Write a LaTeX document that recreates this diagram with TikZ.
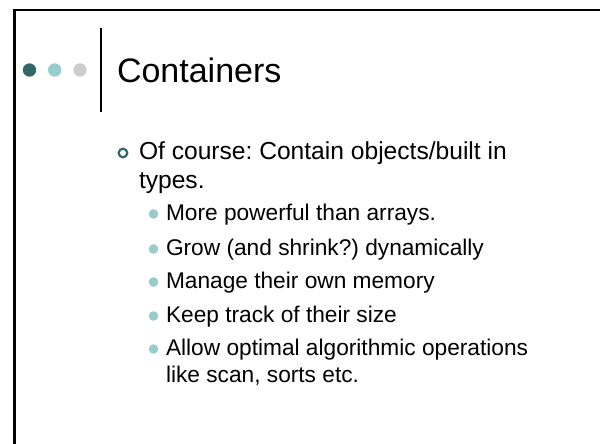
\documentclass[tikz,border=0pt]{standalone}
\usepackage{fontspec}
\setmainfont{Liberation Sans}
\frenchspacing
\definecolor{tealdark}{HTML}{336666}
\definecolor{teallight}{HTML}{99CCCC}
\definecolor{dotgray}{HTML}{CCCCCC}
\begin{document}
\begin{tikzpicture}[x=1pt,y=-1pt,
  txt/.style={anchor=base west,inner sep=0pt,outer sep=0pt},
  maintext/.style={txt,font=\fontsize{24.6}{29}\selectfont},
  subtext/.style={txt,font=\fontsize{22.7}{27}\selectfont},
  ringbullet/.style={draw=tealdark,line width=2.2pt,circle,inner sep=0pt,minimum size=8.6pt},
  dotbullet/.style={fill=teallight,circle,inner sep=0pt,minimum size=9.6pt}]
\useasboundingbox (0,0) rectangle (600,444);
\fill[white] (0,0) rectangle (600,444);
% slide frame: top and left edges
\draw[line width=2.6pt] (14.3,444) -- (14.3,10) -- (600,10);
% header decoration
\fill[tealdark] (29.5,70) circle (6.7);
\fill[teallight] (54.7,70) circle (6.7);
\fill[dotgray] (80,70) circle (6.7);
\draw[line width=2pt] (101,28) -- (101,112);
\node[txt,font=\fontsize{34}{40}\selectfont] (title) at (117,83) {Containers};
% first-level item
\node[ringbullet] (b0) at (123,153) {};
\node[maintext] (m1) at (139,159) {Of course: Contain objects/built in};
\node[maintext] (m2) at (139,188) {types.};
% second-level items
\node[dotbullet] (d1) at (153.5,214) {};
\node[subtext] (s1) at (166,220) {More powerful than arrays.};
\node[dotbullet] (d2) at (153.5,249) {};
\node[subtext] (s2) at (166,255) {Grow (and shrink?) dynamically};
\node[dotbullet] (d3) at (153.5,282) {};
\node[subtext] (s3) at (166,288) {Manage their own memory};
\node[dotbullet] (d4) at (153.5,316) {};
\node[subtext] (s4) at (166,322) {Keep track of their size};
\node[dotbullet] (d5) at (153.5,349) {};
\node[subtext] (s5) at (166,355) {Allow optimal algorithmic operations};
\node[subtext] (s6) at (166,382) {like scan, sorts etc.};
\end{tikzpicture}
\end{document}
